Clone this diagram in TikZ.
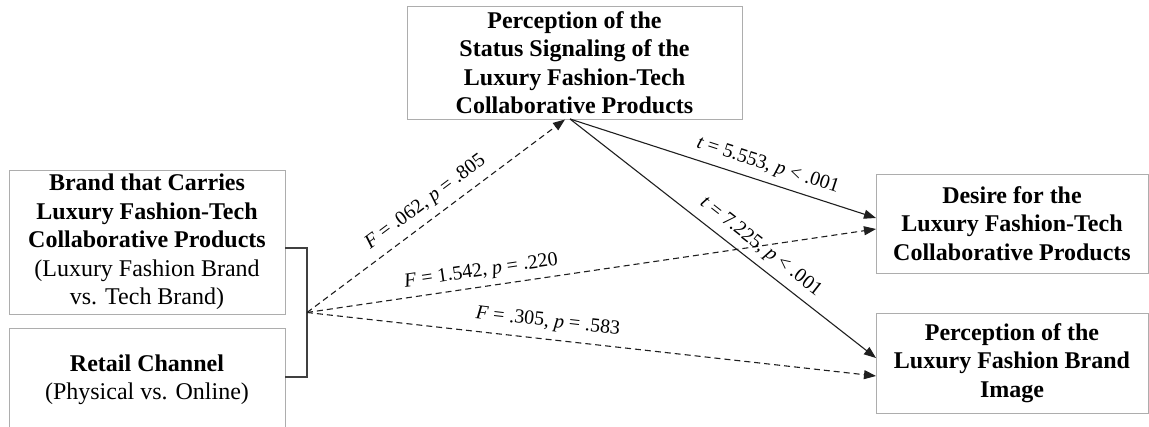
\documentclass[tikz,border=0pt]{standalone}
\usepackage{fontspec}
\setmainfont{Liberation Serif}
\usetikzlibrary{arrows.meta}
\begin{document}
\begin{tikzpicture}[x=1pt,y=-1pt,
  box/.style={draw=black!32, line width=0.9pt, align=center, inner sep=0pt,
    font=\fontsize{24}{28.5}\selectfont},
  conn/.style={draw=black!88, line width=1.1pt, -{Triangle[length=12pt,width=9pt]}},
  dconn/.style={conn, dash pattern=on 6pt off 4pt},
  brk/.style={draw=black!75, line width=1.4pt},
  lbl/.style={sloped, above, inner sep=7pt, font=\fontsize{20}{22}\selectfont}]
\useasboundingbox (0,0) rectangle (1149,427);
\node[box, minimum width=335pt, minimum height=113pt] (top) at (574.5,62.5)
  {\bfseries Perception of the\\\bfseries Status Signaling of the\\\bfseries Luxury Fashion-Tech\\\bfseries Collaborative Products};
\node[box, minimum width=276pt, minimum height=144pt] (brand) at (147,242)
  {\bfseries Brand that Carries\\\bfseries Luxury Fashion-Tech\\\bfseries Collaborative Products\\(Luxury Fashion Brand\\vs. Tech Brand)};
\node[box, minimum width=276pt, minimum height=104pt] (retail) at (147,380)
  {\bfseries Retail Channel\\(Physical vs. Online)};
\node[box, minimum width=272pt, minimum height=99pt] (desire) at (1012,223.5)
  {\bfseries Desire for the\\\bfseries Luxury Fashion-Tech\\\bfseries Collaborative Products};
\node[box, minimum width=272pt, minimum height=100pt] (image) at (1012,363)
  {\bfseries Perception of the\\\bfseries Luxury Fashion Brand\\\bfseries Image};
% bracket
\coordinate (b1) at (285,248);
\coordinate (b2) at (285,377);
\coordinate (src) at (307,312.5);
\draw[brk] (b1) -- (b1 -| src) -- (b2 -| src) -- (b2);
% target points
\coordinate (topin) at (565,119.5);
\coordinate (topout) at (570,119);
\coordinate (desS) at (876,218);
\coordinate (desD) at (876,229);
\coordinate (imgS) at (876,358);
\coordinate (imgD) at (876,376);
\draw[dconn] (src) -- node[lbl, pos=0.5, inner sep=8pt] {\textit{F} = .062, \textit{p} = .805} (topin);
\draw[dconn] (src) -- node[lbl, pos=0.31, inner sep=6pt] {\textit{F} = 1.542, \textit{p} = .220} (desD);
\draw[dconn] (src) -- node[lbl, pos=0.42, inner sep=8pt] {\textit{F} = .305, \textit{p} = .583} (imgD);
\draw[conn] (topout) -- node[lbl, pos=0.63] {\textit{t} = 5.553, \textit{p} < .001} (desS);
\draw[conn] (topout) -- node[lbl, pos=0.59] {\textit{t} = 7.225, \textit{p} < .001} (imgS);
\end{tikzpicture}
\end{document}
